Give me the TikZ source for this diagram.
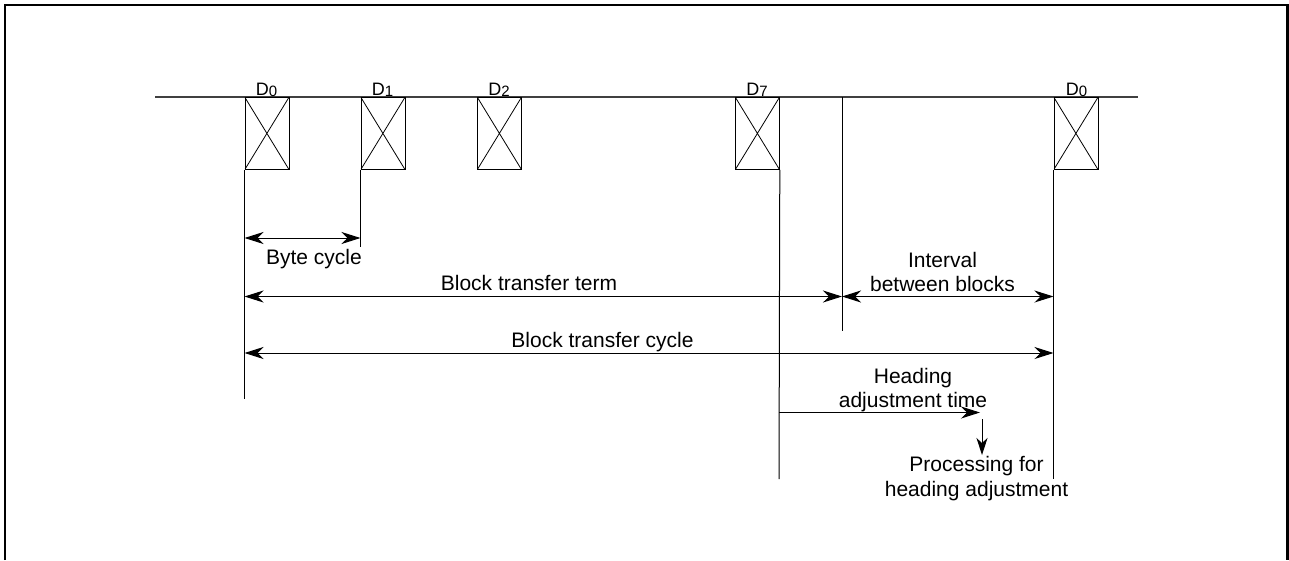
\documentclass[tikz,border=0pt]{standalone}
\usepackage{fontspec}
\setmainfont{Liberation Sans}
\usetikzlibrary{arrows.meta}
\newcommand{\dsub}[1]{D\raisebox{-1.5pt}{\fontsize{15}{15}\selectfont #1}}
\begin{document}
\begin{tikzpicture}[x=1pt,y=-1pt,
  lbl/.style={font=\fontsize{21}{24}\selectfont, inner sep=0pt, anchor=base},
  dlbl/.style={font=\fontsize{18}{20}\selectfont, inner sep=0pt, anchor=base},
  databox/.style={draw, line width=0.8pt, minimum width=44pt, minimum height=72pt,
    inner sep=0pt, anchor=north west,
    path picture={\draw[line width=0.8pt]
      (path picture bounding box.north west) -- (path picture bounding box.south east)
      (path picture bounding box.north east) -- (path picture bounding box.south west);}},
  rule/.style={line width=1pt},
  tip/.tip={Stealth[length=19pt,width=12pt,inset=6pt]},
  dimarrow/.style={line width=1pt, tip-tip},
  onearrow/.style={line width=1pt, -tip},
  smallarrow/.style={line width=1pt, -{Stealth[length=17pt,width=11pt,inset=5pt]}}
]
\useasboundingbox (0,0) rectangle (1289,560);
% frame (open at the bottom)
\draw[line width=2.5pt] (5,560) -- (5,5) -- (1287.5,5) -- (1287.5,560);

% time axis
\coordinate (axL) at (155,97);
\coordinate (axR) at (1138,97);
\draw[line width=1.2pt, black!75] (axL) -- (axR);

% data boxes
\node[databox] (b0) at (244.5,97) {};
\node[databox] (b1) at (360.5,97) {};
\node[databox] (b2) at (477,97) {};
\node[databox] (b7) at (735,97) {};
\node[databox] (b8) at (1053.5,97) {};

% box labels
\node[dlbl] (l0) at (266.5,95) {\dsub{0}};
\node[dlbl] (l1) at (382.5,95) {\dsub{1}};
\node[dlbl] (l2) at (499,95) {\dsub{2}};
\node[dlbl] (l7) at (757,95) {\dsub{7}};
\node[dlbl] (l8) at (1076.5,95) {\dsub{0}};

% vertical marker lines
\coordinate (v0) at (244.5,399);
\coordinate (v1) at (360.5,247);
\coordinate (v7) at (779,479);
\coordinate (ivt) at (842,97);
\coordinate (ivb) at (842,331);
\coordinate (v8) at (1053.5,479);
\draw[rule] (b0.south west) -- (v0);
\draw[rule] (b1.south west) -- (v1);
\draw[rule] (b7.south east) -- (v7);
\draw[rule] (ivt) -- (ivb);
\draw[rule] (b8.south west) -- (v8);

% dimension arrows
\coordinate (byA) at (244.5,238);
\coordinate (byB) at (360.5,238);
\draw[dimarrow] (byA) -- (byB);
\node[lbl] (tbyte) at (314,264) {Byte cycle};

\coordinate (tmA) at (244.5,296.5);
\coordinate (tmB) at (842,296.5);
\coordinate (inB) at (1053.5,296.5);
\draw[dimarrow] (tmA) -- (tmB);
\draw[dimarrow] (tmB) -- (inB);
\node[lbl] (tterm) at (529,290) {Block transfer term};
\node[lbl] (tint1) at (942.5,267.7) {Interval};
\node[lbl] (tint2) at (942.5,291.7) {between blocks};

\coordinate (cyA) at (244.5,353);
\coordinate (cyB) at (1053.5,353);
\draw[dimarrow] (cyA) -- (cyB);
\node[lbl] (tcyc) at (602.5,347.7) {Block transfer cycle};

\coordinate (hdA) at (779,412.5);
\coordinate (hdB) at (980,412.5);
\draw[onearrow] (hdA) -- (hdB);
\node[lbl] (thd1) at (913,383) {Heading};
\node[lbl] (thd2) at (913,407) {adjustment time};

\coordinate (dnA) at (982,419);
\coordinate (dnB) at (982,455);
\draw[smallarrow] (dnA) -- (dnB);
\node[lbl] (tpr1) at (976.5,471.7) {Processing for};
\node[lbl] (tpr2) at (976.5,496.7) {heading adjustment};
\end{tikzpicture}
\end{document}
